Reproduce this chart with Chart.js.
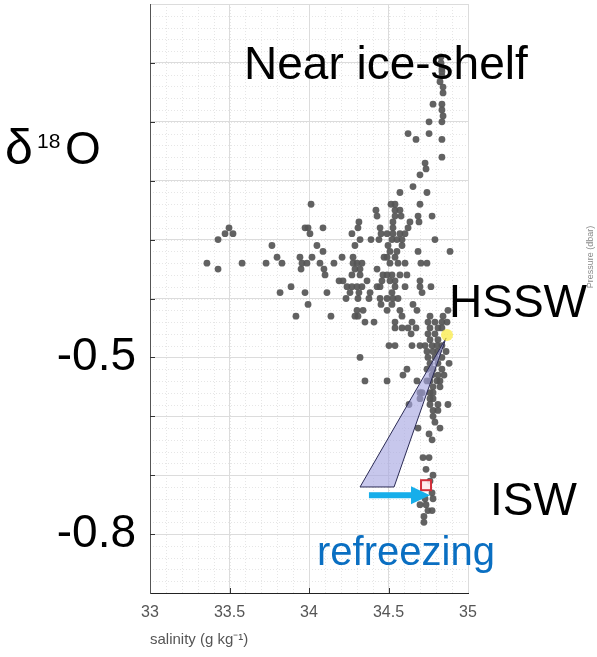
<!DOCTYPE html>
<html>
<head>
<meta charset="utf-8">
<script src="https://cdn.jsdelivr.net/npm/chart.js@4.4.0/dist/chart.umd.min.js"></script>
<style>
  html, body { margin: 0; padding: 0; background: #fff; }
  #wrap { width: 597px; height: 657px; position: relative; }
</style>
</head>
<body>
<div id="wrap"><canvas id="myChart"></canvas></div>
<script>
// d18O rows (per mil) and the salinities (g/kg) of the samples sitting on each row
var d18O = [
  0.01, 0.00, -0.01, -0.015, -0.022, -0.032, -0.041, -0.051,
  -0.07, -0.08, -0.09, -0.10, -0.12, -0.13, -0.16, -0.17, -0.18, -0.19, -0.21, -0.22,
  -0.24, -0.25, -0.26, -0.27, -0.28, -0.29, -0.30, -0.31, -0.32, -0.33,
  -0.34, -0.35, -0.36, -0.37, -0.38, -0.39, -0.40, -0.41, -0.42, -0.43,
  -0.44, -0.45, -0.46, -0.47, -0.48, -0.49, -0.50, -0.51, -0.52, -0.53,
  -0.54, -0.55, -0.56, -0.57, -0.58, -0.59, -0.60, -0.61, -0.62, -0.63,
  -0.64, -0.67, -0.69, -0.70, -0.71, -0.73, -0.74, -0.75, -0.76, -0.77, -0.78
];
var salinity = [
  [34.830], [34.830], [34.836], [34.836], [34.836], [34.824], [34.843], [34.843],
  [34.780, 34.836], [34.836], [34.843], [34.755, 34.836], [34.623, 34.755], [34.673, 34.836],
  [34.836], [34.730], [34.736], [34.698], [34.654], [34.572, 34.742],
  [34.013, 34.516, 34.541, 34.698],
  [34.421, 34.541, 34.572],
  [34.428, 34.541, 34.579, 34.686, 34.774],
  [34.314, 34.528, 34.635, 34.692],
  [33.497, 33.975, 33.994, 34.088, 34.308, 34.447, 34.528, 34.623],
  [33.472, 33.522, 34.006, 34.270, 34.453, 34.491, 34.528, 34.572, 34.604],
  [33.428, 34.321, 34.390, 34.440, 34.522, 34.553, 34.585, 34.792],
  [33.767, 34.050, 34.289, 34.497, 34.585],
  [34.088, 34.509, 34.553, 34.686, 34.887],
  [33.799, 33.943, 34.019, 34.208, 34.277, 34.472, 34.491, 34.541],
  [33.358, 33.579, 33.730, 33.830, 33.956, 33.987, 34.069, 34.157, 34.277, 34.302, 34.333, 34.509, 34.560, 34.604, 34.704, 34.742],
  [33.428, 33.950, 34.094, 34.289, 34.321, 34.428],
  [34.101, 34.270, 34.321, 34.465, 34.491, 34.522, 34.572, 34.616],
  [34.189, 34.214, 34.365, 34.459, 34.509, 34.541, 34.698],
  [33.887, 34.239, 34.270, 34.302, 34.333, 34.428, 34.447, 34.541, 34.604, 34.698, 34.767],
  [33.818, 33.975, 34.113, 34.258, 34.314, 34.384, 34.522, 34.711],
  [34.233, 34.308, 34.377, 34.447, 34.491, 34.528, 34.560],
  [33.994, 34.453, 34.522, 34.654],
  [34.302, 34.340, 34.491, 34.572, 34.679, 34.874],
  [33.918, 34.138, 34.289, 34.308, 34.585, 34.761, 34.843],
  [34.352, 34.409, 34.541, 34.648, 34.748, 34.792, 34.836, 34.868],
  [34.541, 34.585, 34.623, 34.673, 34.761, 34.811, 34.836],
  [34.642, 34.748, 34.792],
  [34.761, 34.811],
  [34.503, 34.541, 34.648, 34.698, 34.730, 34.774, 34.805, 34.836],
  [34.742, 34.780, 34.811, 34.862],
  [34.321, 34.748, 34.792, 34.836],
  [34.761, 34.811, 34.881],
  [34.616, 34.742, 34.780, 34.836],
  [34.591, 34.774, 34.811, 34.849],
  [34.352, 34.491, 34.679, 34.742, 34.761, 34.805, 34.824],
  [34.780, 34.824],
  [34.698, 34.711, 34.761, 34.780],
  [34.698, 34.761, 34.780],
  [34.629, 34.761, 34.811, 34.874],
  [34.780, 34.811],
  [34.780], [34.792], [34.686, 34.824], [34.755], [34.774],
  [34.717, 34.755], [34.736], [34.780], [34.761], [34.774],
  [34.730, 34.780], [34.698, 34.736], [34.748, 34.774], [34.723], [34.723]
];

var yLabelled = [-0.5, -0.8];

// mixing wedge below HSSW, refreezing arrow, ISW sample and HSSW end member
var wedgeSal = [34.862, 34.321, 34.535];
var wedgeD18O = [-0.467, -0.72, -0.72];
var arrowSal = [34.377, 34.761];
var arrowD18O = [-0.734, -0.734];
var hsswPoint = [34.868, -0.462];
var iswPoint = [34.736, -0.717];

var points = [];
d18O.forEach(function(d, i) {
  salinity[i].forEach(function(s) { points.push({x: s, y: d}); });
});

var FONT = "'Liberation Sans', Arial, Helvetica, sans-serif";
Chart.defaults.font.family = FONT;

var overlay = {
  id: 'overlay',
  beforeDraw: function(chart) {
    var c = chart.ctx, a = chart.chartArea, xs = chart.scales.x, ys = chart.scales.y;
    c.save();
    c.fillStyle = '#fff';
    c.fillRect(0, 0, chart.width, chart.height);
    // dotted minor grid
    c.strokeStyle = '#e6e6e6';
    c.lineWidth = 1;
    c.setLineDash([1, 2]);
    for (var k = 1; k < 20; k++) {
      var px = Math.round(xs.getPixelForValue(33 + k * 0.1)) + 0.5;
      c.beginPath(); c.moveTo(px, a.top); c.lineTo(px, a.bottom); c.stroke();
    }
    for (var j = 1; j < 50; j++) {
      var py = Math.round(ys.getPixelForValue(-0.9 + j * 0.02)) + 0.5;
      c.beginPath(); c.moveTo(a.left, py); c.lineTo(a.right, py); c.stroke();
    }
    c.restore();
  },
  afterDatasetsDraw: function(chart) {
    var c = chart.ctx, xs = chart.scales.x, ys = chart.scales.y;
    c.save();
    // wedge
    c.beginPath();
    wedgeSal.forEach(function(s, i) {
      var px = xs.getPixelForValue(s), py = ys.getPixelForValue(wedgeD18O[i]);
      if (i === 0) c.moveTo(px, py); else c.lineTo(px, py);
    });
    c.closePath();
    c.fillStyle = 'rgba(165,165,225,0.62)';
    c.fill();
    c.strokeStyle = '#2b2b55';
    c.lineWidth = 1;
    c.stroke();
    // HSSW end member
    c.beginPath();
    c.arc(xs.getPixelForValue(hsswPoint[0]), ys.getPixelForValue(hsswPoint[1]), 6, 0, Math.PI * 2);
    c.fillStyle = 'rgba(250,235,70,0.75)';
    c.fill();
    // ISW sample
    var qx = xs.getPixelForValue(iswPoint[0]), qy = ys.getPixelForValue(iswPoint[1]);
    c.fillStyle = 'rgba(255,235,235,0.9)';
    c.fillRect(qx - 5, qy - 5, 10, 10);
    c.strokeStyle = '#d22f3a';
    c.lineWidth = 2;
    c.strokeRect(qx - 5, qy - 5, 10, 10);
    // refreezing arrow
    var x0 = xs.getPixelForValue(arrowSal[0]), x1 = xs.getPixelForValue(arrowSal[1]);
    var y0 = ys.getPixelForValue(arrowD18O[0]);
    c.fillStyle = '#17aeea';
    c.fillRect(x0, y0 - 3, (x1 - 18) - x0, 6);
    c.beginPath();
    c.moveTo(x1 - 19, y0 - 9);
    c.lineTo(x1, y0);
    c.lineTo(x1 - 19, y0 + 9);
    c.closePath();
    c.fill();
    c.restore();
  },
  afterDraw: function(chart) {
    var c = chart.ctx, a = chart.chartArea, xs = chart.scales.x, ys = chart.scales.y;
    c.save();
    // inner tick marks
    c.strokeStyle = '#333';
    c.lineWidth = 1;
    for (var k = 1; k < 10; k++) {
      var py = Math.round(ys.getPixelForValue(-0.9 + k * 0.1)) + 0.5;
      c.beginPath(); c.moveTo(a.left, py); c.lineTo(a.left + 5, py); c.stroke();
    }
    [33.5, 34, 34.5].forEach(function(s) {
      var px = Math.round(xs.getPixelForValue(s)) + 0.5;
      c.beginPath(); c.moveTo(px, a.bottom); c.lineTo(px, a.bottom - 5); c.stroke();
    });
    // labels
    c.fillStyle = '#000';
    c.textBaseline = 'alphabetic';
    c.textAlign = 'left';
    c.font = '46px ' + FONT;
    c.fillText('Near ice-shelf', 244, 79);
    c.fillText('HSSW', 449, 317);
    c.fillText('ISW', 490, 515);
    c.fillText('O', 65, 164);
    c.font = '50px ' + FONT;
    c.fillText('\u03B4', 5, 164);
    c.font = '21px ' + FONT;
    c.fillText('18', 37, 148);
    c.fillStyle = '#0a6fc2';
    c.font = '40px ' + FONT;
    c.fillText('refreezing', 317, 565);
    // colorbar label remnant at the right edge
    c.translate(593, 257);
    c.rotate(-Math.PI / 2);
    c.fillStyle = '#8a8a8a';
    c.font = '9px ' + FONT;
    c.textAlign = 'center';
    c.fillText('Pressure (dbar)', 0, 0);
    c.restore();
  }
};

var ctx = document.getElementById('myChart').getContext('2d');
var myChart = new Chart(ctx, {
  type: 'scatter',
  data: {
    datasets: [{
      label: 'samples',
      data: points,
      backgroundColor: 'rgba(85,85,85,0.92)',
      borderWidth: 0,
      pointRadius: 3.4,
      pointHoverRadius: 3.4
    }]
  },
  options: {
    responsive: true,
    maintainAspectRatio: false,
    animation: false,
    layout: { padding: { top: 4, right: 129, left: 0, bottom: 0 } },
    plugins: { legend: { display: false }, tooltip: { enabled: false } },
    scales: {
      x: {
        type: 'linear',
        min: 33,
        max: 35,
        afterFit: function(scale) {
          scale.height = 64;
          scale.paddingLeft = 0;
          scale.paddingRight = 0;
        },
        ticks: {
          stepSize: 0.5,
          color: '#555',
          font: { size: 16 },
          padding: 10,
          maxRotation: 0,
          autoSkip: false,
          callback: function(v) { return String(Math.round(v * 10) / 10); }
        },
        grid: { color: '#dcdcdc', drawTicks: false },
        border: { color: '#222' },
        title: {
          display: true,
          text: 'salinity (g kg\u207B\u00B9)',
          align: 'start',
          color: '#555',
          font: { size: 15 },
          padding: { top: 0, bottom: 8 }
        }
      },
      y: {
        type: 'linear',
        min: -0.9,
        max: 0.1,
        afterFit: function(scale) {
          scale.width = 150;
          scale.paddingTop = 0;
          scale.paddingBottom = 0;
        },
        ticks: {
          stepSize: 0.1,
          color: '#000',
          font: { size: 46 },
          padding: 14,
          autoSkip: false,
          callback: function(v) {
            for (var i = 0; i < yLabelled.length; i++) {
              if (Math.abs(v - yLabelled[i]) < 1e-6) return String(yLabelled[i]);
            }
            return '';
          }
        },
        grid: { color: '#dcdcdc', drawTicks: false },
        border: { color: '#555' }
      }
    }
  },
  plugins: [overlay]
});
</script>
</body>
</html>
